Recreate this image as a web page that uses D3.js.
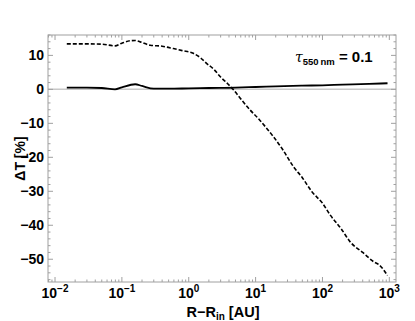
<!DOCTYPE html>
<html>
<head>
<meta charset="utf-8">
<script src="https://cdn.jsdelivr.net/npm/d3@7"></script>
<style>
  body { margin: 0; background: #fff; }
  text { font-family: "Liberation Sans", Arial, sans-serif; font-weight: bold; }
</style>
</head>
<body>
<div id="chart"></div>
<script>
// data
const solidR = [0.015, 0.03, 0.05, 0.079, 0.1, 0.158, 0.2, 0.3, 0.5, 1, 2, 5, 10, 20, 50, 100, 200, 500, 940];
const solidT = [0.5, 0.5, 0.4, 0.0, 0.6, 1.5, 1.0, 0.2, 0.2, 0.3, 0.4, 0.5, 0.7, 0.9, 1.1, 1.2, 1.4, 1.6, 1.8];

const dashR = [0.015, 0.03, 0.05, 0.079, 0.1, 0.133, 0.158, 0.2, 0.265, 0.4, 0.59, 0.8, 1.17, 1.5, 1.86, 2.4, 2.97, 3.8, 4.7, 6, 8.3, 11, 14, 18.6, 25, 37, 50, 70, 100, 132, 190, 263, 400, 590, 700, 940];
const dashT = [13.4, 13.4, 13.3, 12.8, 13.6, 14.3, 14.4, 13.8, 13.0, 12.7, 12.0, 11.4, 10.6, 9.3, 7.6, 5.8, 3.7, 1.7, -0.2, -2.8, -6.1, -8.6, -11, -14, -17.5, -22.8, -26, -30.2, -33.5, -37.1, -41, -45, -48, -50.8, -51.6, -54.8];

const xDecades = [-2, -1, 0, 1, 2, 3];
const yTicks = [-50, -40, -30, -20, -10, 0, 10];

// dimensions
const w = 415, h = 321;
const padLeft = 48, padRight = 396, padTop = 35, padBot = 282;

const svg = d3.select("#chart").append("svg")
  .attr("width", w).attr("height", h);

const x = d3.scaleLog().domain([Math.pow(10, -2.105), Math.pow(10, 3.1)]).range([padLeft, padRight]);
const y = d3.scaleLinear().domain([-56.7, 16]).range([padBot, padTop]);

// zero line
svg.append("line")
  .attr("x1", padLeft).attr("x2", padRight)
  .attr("y1", y(0)).attr("y2", y(0))
  .attr("stroke", "#c8c8c8").attr("stroke-width", 1.5);

// tick positions
const xMinor = [];
xDecades.forEach(d => { for (let k = 2; k <= 9; k++) xMinor.push(k * Math.pow(10, d)); });
xMinor.push(0.009, 0.008);
const xMajor = xDecades.map(d => Math.pow(10, d));
const yMinor = d3.range(-56, 17, 2).filter(v => v % 10 !== 0);

const frameCol = "#a0a0a0";
const g = svg.append("g").attr("stroke", frameCol).attr("stroke-width", 1);

// ticks (inward, all four sides)
function xt(vals, len) {
  vals.filter(v => x(v) >= padLeft && x(v) <= padRight).forEach(v => {
    g.append("line").attr("x1", x(v)).attr("x2", x(v)).attr("y1", padBot).attr("y2", padBot - len);
    g.append("line").attr("x1", x(v)).attr("x2", x(v)).attr("y1", padTop).attr("y2", padTop + len);
  });
}
function yt(vals, len) {
  vals.forEach(v => {
    g.append("line").attr("x1", padLeft).attr("x2", padLeft + len).attr("y1", y(v)).attr("y2", y(v));
    g.append("line").attr("x1", padRight).attr("x2", padRight - len).attr("y1", y(v)).attr("y2", y(v));
  });
}
xt(xMajor, 5); xt(xMinor, 2.5);
yt(yTicks, 5); yt(yMinor, 2.5);

// frame
g.append("rect")
  .attr("x", padLeft).attr("y", padTop)
  .attr("width", padRight - padLeft).attr("height", padBot - padTop)
  .attr("fill", "none");

// tick labels
svg.selectAll(".ylab").data(yTicks).enter().append("text")
  .attr("x", padLeft - 4).attr("y", d => y(d)).attr("dy", "0.36em")
  .attr("text-anchor", "end").attr("font-size", 14)
  .text(d => d < 0 ? "\u2212" + Math.abs(d) : d);

xDecades.forEach(d => {
  const t = svg.append("text")
    .attr("x", x(Math.pow(10, d))).attr("y", 297.5)
    .attr("text-anchor", "middle").attr("font-size", 14);
  t.append("tspan").text("10");
  t.append("tspan").attr("font-size", 10).attr("dy", -5.5)
    .text(d < 0 ? "\u2212" + Math.abs(d) : d);
});

// axis titles
const xl = svg.append("text").attr("x", 223).attr("y", 317)
  .attr("text-anchor", "middle").attr("font-size", 14.5);
xl.append("tspan").text("R\u2212R");
xl.append("tspan").attr("font-size", 10).attr("dy", 3).text("in");
xl.append("tspan").attr("dy", -3).text(" [AU]");

svg.append("text")
  .attr("transform", `translate(25, ${(padTop + padBot) / 2}) rotate(-90)`)
  .attr("text-anchor", "middle").attr("font-size", 14)
  .text("\u0394T [%]");

// annotation
const ann = svg.append("text").attr("x", 295).attr("y", 61.5).attr("font-size", 15);
ann.append("tspan").attr("font-style", "italic").attr("font-weight", "normal")
  .attr("font-family", "DejaVu Serif, serif").attr("font-size", 14).text("\u03c4");
ann.append("tspan").attr("font-size", 9.5).attr("dy", 3).text("550\u2009nm");
ann.append("tspan").attr("dy", -3).text(" = 0.1");

// curves
const line = d3.line().x(d => x(d[0])).y(d => y(d[1])).curve(d3.curveMonotoneX);

svg.append("path")
  .datum(d3.zip(solidR, solidT))
  .attr("d", line)
  .attr("fill", "none").attr("stroke", "#000").attr("stroke-width", 1.8);

svg.append("path")
  .datum(d3.zip(dashR, dashT))
  .attr("d", line)
  .attr("fill", "none").attr("stroke", "#000").attr("stroke-width", 1.6)
  .attr("stroke-dasharray", "4,2");
</script>
</body>
</html>
